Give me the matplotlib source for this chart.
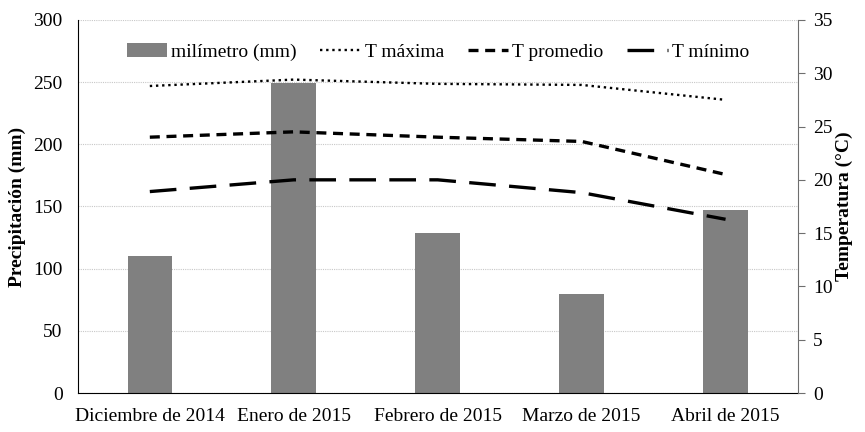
import matplotlib
matplotlib.use("Agg")
import matplotlib.pyplot as plt
import numpy as np

categories = ["Diciembre de 2014", "Enero de 2015", "Febrero de 2015", "Marzo de 2015", "Abril de 2015"]
precip_mm = [110, 249, 129, 80, 147]
t_max = [28.8, 29.4, 29.0, 28.9, 27.5]
t_prom = [24.0, 24.5, 24.0, 23.6, 20.5]
t_min = [18.9, 20.0, 20.0, 18.8, 16.3]

plt.rcParams['font.family'] = ['Liberation Serif', 'DejaVu Serif']
plt.rcParams['font.size'] = 14

fig = plt.figure(figsize=(8.65, 4.32), dpi=100)
ax = fig.add_axes([0.090, 0.090, 0.832, 0.864])
x = np.arange(len(categories))

bars = ax.bar(x, precip_mm, width=0.31, color="#808080", label="milímetro (mm)", zorder=2)
ax.set_ylim(0, 300)
ax.set_yticks(range(0, 301, 50))
ax.set_xlim(-0.5, len(categories) - 0.5)
ax.set_xticks(x)
ax.set_xticklabels(categories)
ax.yaxis.grid(True, color="#c8c8c8", linestyle=(0, (1, 1)), linewidth=0.8, zorder=0)
ax.set_axisbelow(True)
ax.tick_params(axis='y', length=0, pad=11)
ax.tick_params(axis='x', length=0, pad=11)
for s in ['top', 'right']:
    ax.spines[s].set_visible(False)
ax.spines['left'].set_color('black')
ax.spines['bottom'].set_color('black')
ax.set_ylabel("Precipitación (mm)", fontweight='bold', labelpad=5)

ax2 = ax.twinx()
l1, = ax2.plot(x, t_max, color='black', linestyle=(0, (1, 1.6)), linewidth=1.7, label="T máxima")
l2, = ax2.plot(x, t_prom, color='black', linestyle=(0, (3, 2)), linewidth=2.4, label="T promedio")
l3, = ax2.plot(x, t_min, color='black', linestyle=(0, (8, 4)), linewidth=2.4, label="T mínimo")
ax2.set_ylim(0, 35)
ax2.set_yticks(range(0, 36, 5))
for s in ['top', 'left', 'bottom']:
    ax2.spines[s].set_visible(False)
ax2.spines['right'].set_color('#6e6e6e')
ax2.tick_params(axis='y', direction='out', length=5, color='#6e6e6e', pad=6)
ax2.set_ylabel("Temperatura (°C)", fontweight='bold', labelpad=2)

ax.legend(handles=[bars, l1, l2, l3], loc='upper center', bbox_to_anchor=(0.50, 0.985),
          ncol=4, frameon=False, handlelength=2.1, handletextpad=0.2, columnspacing=1.2,
          fontsize=14)

fig.savefig("out.png", dpi=100)
